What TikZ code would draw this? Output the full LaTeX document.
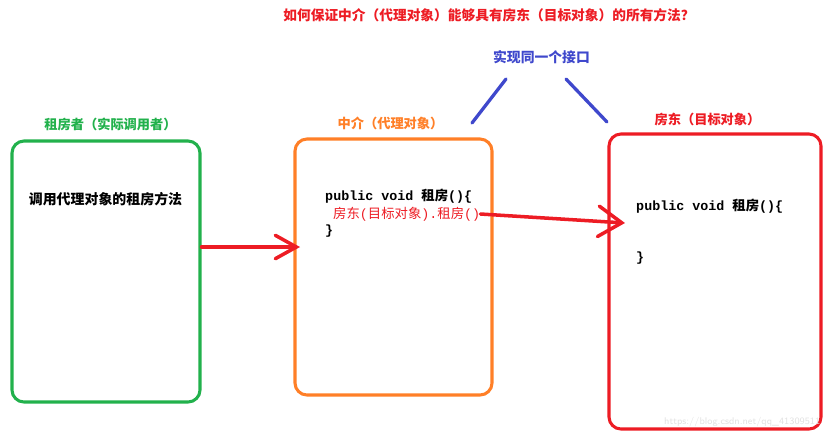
\documentclass[tikz,border=0pt]{standalone}
\usepackage{fontspec}
\setmainfont{Noto Sans CJK SC}
\setmonofont{Liberation Mono}
\definecolor{paintgreen}{RGB}{34, 177, 76}
\definecolor{paintorange}{RGB}{255, 127, 39}
\definecolor{paintred}{RGB}{237, 28, 36}
\definecolor{paintblue}{RGB}{63, 72, 204}
\definecolor{markgray}{RGB}{225, 225, 225}
\usetikzlibrary{positioning, arrows.meta}

\tikzset{
  rolebox/.style={draw=#1, line width=2.6pt, rounded corners=0.36cm, inner sep=0pt},
  rolelabel/.style={text=#1, font=\fontsize{11.3}{13}\selectfont\bfseries},
  codeline/.style={anchor=west, inner sep=0pt, font=\fontsize{11.4}{13}\selectfont},
  handarrow/.style 2 args={paintred, line width=3pt, line cap=round,
    -{Straight Barb[length=#1, width=#2, line cap=round]}},
}
\newcommand{\zh}[1]{{\rmfamily #1}}

\begin{document}
\begin{tikzpicture}[x=0.03cm, y=-0.03cm]
  \useasboundingbox (0, 0) rectangle (832, 437);
  % Question on top
  \node[text=paintred, font=\fontsize{11.7}{13}\selectfont\bfseries] (question) at (489, 15)
    {如何保证中介（代理对象）能够具有房东（目标对象）的所有方法？};
  % Shared interface
  \node[text=paintblue, font=\fontsize{11.8}{13}\selectfont\bfseries] (iface) at (541.5, 57) {实现同一个接口};
  \coordinate (ifl1) at (506, 79);
  \coordinate (ifl2) at (472, 123);
  \coordinate (ifr1) at (566, 79);
  \coordinate (ifr2) at (607, 122);
  \draw[paintblue, line width=2.8pt, line cap=round] (ifl1) -- (ifl2) (ifr1) -- (ifr2);
  % Renter
  \node[rolebox=paintgreen, minimum width=5.64cm, minimum height=7.83cm] (renter) at (106, 271.5) {};
  \node[rolelabel=paintgreen] (renterlbl) at (110.5, 124) {租房者（实际调用者）};
  \node[font=\fontsize{11.9}{13}\selectfont\bfseries] (renterdo) at (105.5, 199) {调用代理对象的租房方法};
  % Agent (proxy)
  \node[rolebox=paintorange, minimum width=5.91cm, minimum height=7.68cm] (agent) at (393.5, 267) {};
  \node[rolelabel=paintorange] (agentlbl) at (390.5, 123) {中介（代理对象）};
  \node[codeline] (agentsig) at (325, 196) {\ttfamily\bfseries public void \zh{租房}()\{};
  \node[codeline, text=paintred] (agentcall) at (333, 214) {\ttfamily \zh{房东}(\zh{目标对象}).\zh{租房}()};
  \node[codeline] (agentend) at (325, 231) {\ttfamily\bfseries \}};
  % Landlord (target)
  \node[rolebox=paintred, minimum width=6.36cm, minimum height=8.85cm] (owner) at (715, 281.5) {};
  \node[rolelabel=paintred] (ownerlbl) at (707.5, 119) {房东（目标对象）};
  \node[codeline] (ownersig) at (636, 206) {\ttfamily\bfseries public void \zh{租房}()\{};
  \node[codeline] (ownerend) at (636, 258) {\ttfamily\bfseries \}};
  % Calls
  \coordinate (hit1) at (300, 247);
  \coordinate (hit2) at (625, 223);
  \draw[handarrow={18pt}{20pt}] (renter.east |- hit1) -- (hit1);
  \draw[handarrow={20pt}{26pt}] (agentcall.east) -- (hit2);
  % Watermark
  \node[anchor=west, inner sep=0pt, text=markgray, font=\fontsize{8.3}{10}\selectfont\sffamily] (mark) at (664, 422)
    {https://blog.csdn.net/qq\_41309511};
\end{tikzpicture}
\end{document}
